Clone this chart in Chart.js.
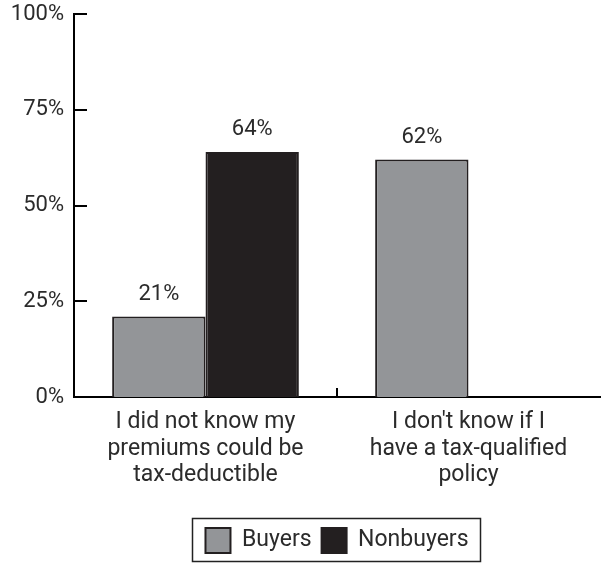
<!DOCTYPE html>
<html>
<head>
<meta charset="utf-8">
<script src="https://cdn.jsdelivr.net/npm/chart.js@4/dist/chart.umd.min.js"></script>
<style>
  html, body { margin: 0; padding: 0; background: #fff; }
  #wrap { width: 602px; height: 563px; }
</style>
</head>
<body>
<div id="wrap"><canvas id="c" width="602" height="563"></canvas></div>
<script>
const categories = [
  ["I did not know my", "premiums could be", "tax-deductible"],
  ["I don't know if I", "have a tax-qualified", "policy"]
];
const buyers = [21, 62];
const nonbuyers = [64, null];
const yTicks = [0, 25, 50, 75, 100];

const FONT = "Roboto, 'Liberation Sans', sans-serif";
const TEXT = "#2b2b2b";

// inward y ticks, the divider tick on the x axis, value labels and legend frame
const decor = {
  id: "decor",
  afterDraw(chart) {
    const ctx = chart.ctx;
    const y = chart.scales.y, x = chart.scales.x;
    ctx.save();
    ctx.strokeStyle = "#000";
    ctx.lineWidth = 2;
    yTicks.forEach(v => {
      const py = Math.round(y.getPixelForValue(v));
      ctx.beginPath();
      ctx.moveTo(y.right, py);
      ctx.lineTo(y.right + 13, py);
      ctx.stroke();
    });
    const mid = (x.getPixelForValue(0) + x.getPixelForValue(1)) / 2;
    ctx.beginPath();
    ctx.moveTo(mid, x.top);
    ctx.lineTo(mid, x.top - 9);
    ctx.stroke();

    ctx.fillStyle = TEXT;
    ctx.font = "22px " + FONT;
    ctx.textAlign = "center";
    ctx.textBaseline = "bottom";
    chart.data.datasets.forEach((ds, di) => {
      const meta = chart.getDatasetMeta(di);
      meta.data.forEach((bar, i) => {
        const v = ds.data[i];
        if (v === null || v === undefined) return;
        ctx.fillText(v + "%", bar.x, bar.y - 11);
      });
    });

    const lg = chart.legend;
    ctx.strokeStyle = "#222";
    ctx.lineWidth = 1.5;
    const lw = 288;
    const cx = (chart.chartArea.left + chart.chartArea.right) / 2;
    const lx = Math.round(cx - lw / 2) - 1;
    ctx.strokeRect(lx + 0.5, lg.top + 0.5, lw, chart.height - lg.top - 2);
    ctx.restore();
  }
};

new Chart(document.getElementById("c"), {
  type: "bar",
  data: {
    labels: categories,
    datasets: [
      {
        label: "Buyers",
        data: buyers,
        backgroundColor: "#939598",
        borderColor: "#231f20",
        borderWidth: 2
      },
      {
        label: "Nonbuyers",
        data: nonbuyers,
        backgroundColor: "#231f20",
        borderColor: "#231f20",
        borderWidth: 2
      }
    ]
  },
  options: {
    responsive: false,
    animation: false,
    devicePixelRatio: 1,
    layout: { padding: { top: 14, right: 2, bottom: 0, left: 0 } },
    datasets: { bar: { categoryPercentage: 0.71, barPercentage: 1.0 } },
    scales: {
      x: {
        grid: { display: false, drawTicks: false },
        border: { display: true, color: "#000", width: 2 },
        ticks: {
          color: TEXT,
          font: { family: FONT, size: 23, lineHeight: 1.16 },
          padding: 12,
          maxRotation: 0,
          autoSkip: false
        },
        afterFit(scale) { scale.height = 121; }
      },
      y: {
        min: 0,
        max: 100,
        afterBuildTicks(scale) { scale.ticks = yTicks.map(v => ({ value: v })); },
        grid: { display: false, drawTicks: false },
        border: { display: true, color: "#000", width: 2 },
        ticks: {
          color: TEXT,
          font: { family: FONT, size: 22, lineHeight: 1.0 },
          padding: 10,
          callback: v => v + "%"
        },
        afterFit(scale) {
          scale.width = 74;
          scale.paddingTop = 0;
          scale.paddingBottom = 0;
        }
      }
    },
    plugins: {
      legend: {
        position: "bottom",
        fullSize: false,
        labels: {
          color: TEXT,
          font: { family: FONT, size: 23 },
          boxWidth: 25,
          boxHeight: 25,
          padding: 10,
          useBorderRadius: false
        }
      },
      tooltip: { enabled: false }
    }
  },
  plugins: [decor]
});
</script>
</body>
</html>
